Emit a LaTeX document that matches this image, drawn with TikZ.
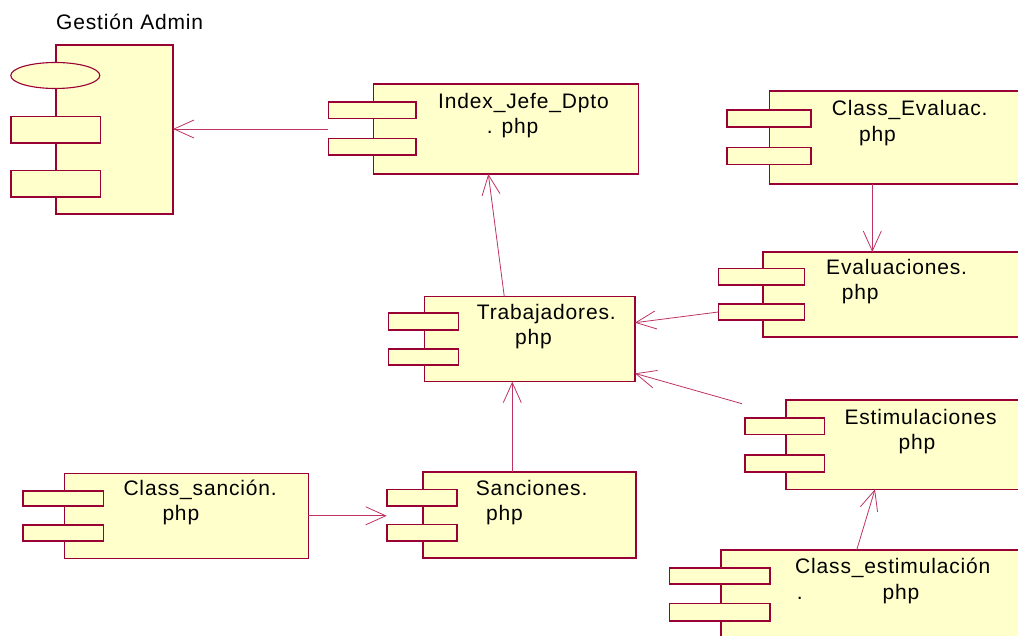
\documentclass[tikz,border=0pt]{standalone}
\usepackage{fontspec}
\setmainfont{Liberation Sans}[LetterSpace=4]
\usetikzlibrary{arrows.meta,calc,shapes.geometric}
\definecolor{umlborder}{RGB}{153,0,51}
\definecolor{umlfill}{RGB}{255,255,204}
\definecolor{umlline}{RGB}{190,50,100}
\tikzset{
  compbody/.style={rectangle, draw=umlborder, fill=umlfill, line width=1.6pt,
    inner sep=0pt, outer sep=0pt, anchor=north west},
  comptab/.style={compbody},
  dep/.style={draw=umlline, line width=0.8pt,
    -{Straight Barb[length=20pt,width=18pt,line width=0.8pt]}},
  lbl/.style={anchor=base west, inner sep=0pt, font=\fontsize{21}{25}\selectfont, text=black}
}
\begin{document}
\begin{tikzpicture}[x=1pt,y=-1pt]
\useasboundingbox (0,0) rectangle (1018,636);
\clip (0,0) rectangle (1018,636);

% --- Gestion Admin (subsystem) ---
\node[compbody, minimum width=117pt, minimum height=169pt] (adm) at (56,45) {};
\node[ellipse, draw=umlborder, fill=umlfill, line width=1.1pt, inner sep=0pt,
      minimum width=89pt, minimum height=26pt] (adm-e) at (55.3,75.5) {};
\node[comptab, minimum width=89.6pt, minimum height=26.6pt] (adm-t1) at (10.7,116.7) {};
\node[comptab, minimum width=89.6pt, minimum height=26.6pt] (adm-t2) at (10.7,170.7) {};
\node[lbl] (adm-l) at (56,29.3) {Gestión Admin};

% --- Index_Jefe_Dpto.php ---
\node[compbody, minimum width=265pt, minimum height=90pt] (idx) at (373.3,84) {};
\node[comptab, minimum width=87.7pt, minimum height=16.5pt] (idx-t1) at (328.3,102) {};
\node[comptab, minimum width=87.7pt, minimum height=16.5pt] (idx-t2) at (328.3,138.7) {};
\node[lbl] (idx-l1) at (438,108.3) {Index\_Jefe\_Dpto};
\node[lbl] (idx-l2) at (486.7,133.5) {. php};

% --- Class_Evaluac.php ---
\node[compbody, minimum width=270pt, minimum height=93pt] (ceval) at (769.3,91) {};
\node[comptab, minimum width=84.3pt, minimum height=17pt] (ceval-t1) at (726.7,110) {};
\node[comptab, minimum width=84.3pt, minimum height=17pt] (ceval-t2) at (726.7,147.7) {};
\node[lbl] (ceval-l1) at (831.7,116) {Class\_Evaluac.};
\node[lbl] (ceval-l2) at (859,141.5) {php};

% --- Evaluaciones.php ---
\node[compbody, minimum width=270pt, minimum height=85.3pt] (evalu) at (762.7,252) {};
\node[comptab, minimum width=86pt, minimum height=16.3pt] (evalu-t1) at (718.3,268.7) {};
\node[comptab, minimum width=86pt, minimum height=16pt] (evalu-t2) at (718.3,304) {};
\node[lbl] (evalu-l1) at (826,274.3) {Evaluaciones.};
\node[lbl] (evalu-l2) at (841.7,300) {php};

% --- Trabajadores.php ---
\node[compbody, minimum width=210.7pt, minimum height=85pt] (trab) at (424.3,296.7) {};
\node[comptab, minimum width=70pt, minimum height=16.7pt] (trab-t1) at (388.3,313.3) {};
\node[comptab, minimum width=70pt, minimum height=16pt] (trab-t2) at (388.3,349) {};
\node[lbl] (trab-l1) at (476.7,319.3) {Trabajadores.};
\node[lbl] (trab-l2) at (515,344.5) {php};

% --- Class_sancion.php ---
\node[compbody, minimum width=244pt, minimum height=85pt] (csanc) at (64.3,473.3) {};
\node[comptab, minimum width=80.6pt, minimum height=15.3pt] (csanc-t1) at (22.7,490.7) {};
\node[comptab, minimum width=80.6pt, minimum height=16pt] (csanc-t2) at (22.7,525) {};
\node[lbl] (csanc-l1) at (123.3,495) {Class\_sanción.};
\node[lbl] (csanc-l2) at (162.3,520.5) {php};

% --- Sanciones.php ---
\node[compbody, minimum width=213.3pt, minimum height=86pt] (sanc) at (422.7,471.7) {};
\node[comptab, minimum width=70pt, minimum height=16.4pt] (sanc-t1) at (386.7,489.3) {};
\node[comptab, minimum width=70pt, minimum height=16.7pt] (sanc-t2) at (386.7,524.3) {};
\node[lbl] (sanc-l1) at (475.7,495) {Sanciones.};
\node[lbl] (sanc-l2) at (486,520.3) {php};

% --- Estimulaciones php ---
\node[compbody, minimum width=260pt, minimum height=89.3pt] (estim) at (785.7,400) {};
\node[comptab, minimum width=79.3pt, minimum height=16.6pt] (estim-t1) at (745,417.7) {};
\node[comptab, minimum width=79.3pt, minimum height=16.7pt] (estim-t2) at (745,455) {};
\node[lbl] (estim-l1) at (844.3,424.3) {Estimulaciones};
\node[lbl] (estim-l2) at (898.3,449.5) {php};

% --- Class_estimulacion.php ---
\node[compbody, minimum width=320pt, minimum height=100pt] (cestim) at (720.7,550) {};
\node[comptab, minimum width=100.7pt, minimum height=16pt] (cestim-t1) at (669.3,567.7) {};
\node[comptab, minimum width=100.7pt, minimum height=17.4pt] (cestim-t2) at (669.3,603.3) {};
\node[lbl] (cestim-l1) at (795,573.3) {Class\_estimulación};
\node[lbl] (cestim-l2) at (796.7,599.3) {.};
\node[lbl] (cestim-l3) at (882.3,599.3) {php};

% --- dependencies ---
\draw[dep] (idx-t1.west |- idx.west) -- (adm.east |- idx.west);
\draw[dep] ($(ceval.south west)+(103,0)$) -- ($(evalu.north west)+(109.6,0)$);
\draw[dep] ($(trab.north west)+(80,0)$) -- ($(idx.south west)+(115,0)$);
\draw[dep] (evalu-t2.west) -- ($(trab.north east)+(0,26)$);
\coordinate (estim-tail) at ($(estim-t1.north west)+(-3,-14)$);
\draw[dep] (estim-tail) -- ($(trab.south east)+(0,-8.3)$);
\draw[dep] ($(sanc.north west)+(89.6,0)$) -- ($(trab.south west)+(88,0)$);
\draw[dep] (csanc.east) -- (sanc-t1.west |- csanc.east);
\draw[dep] ($(cestim.north west)+(136,0)$) -- ($(estim.south west)+(89.3,0)$);
\end{tikzpicture}
\end{document}
